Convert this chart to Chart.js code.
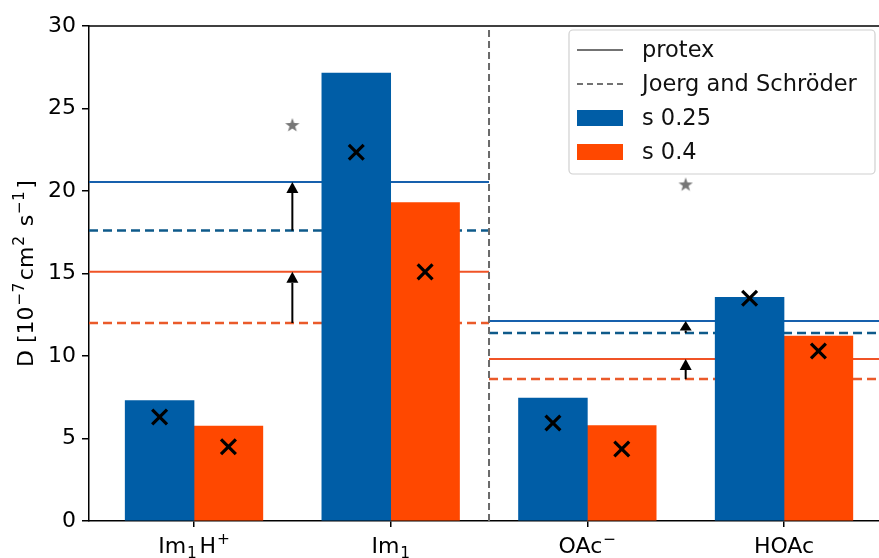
<!DOCTYPE html>
<html>
<head>
<meta charset="utf-8">
<script src="https://cdn.jsdelivr.net/npm/chart.js"></script>
<style>
  body { margin: 0; background: #fff; }
  canvas { display: block; }
</style>
</head>
<body>
<canvas id="diffChart" width="879" height="558"></canvas>
<script>
    // species on the x axis and diffusion coefficients in 1e-7 cm^2/s
    const categories = ['Im₁H⁺', 'Im₁', 'OAc⁻', 'HOAc'];
    const s025Bars = [7.3, 27.15, 7.45, 13.55];
    const s04Bars = [5.75, 19.3, 5.78, 11.2];
    const s025Marks = [6.3, 22.35, 5.94, 13.5];
    const s04Marks = [4.5, 15.1, 4.36, 10.3];

    // reference lines per group: [imidazole side, acetate side]
    const protexS025 = [20.55, 12.12];
    const joergS025 = [17.6, 11.4];
    const protexS04 = [15.1, 9.82];
    const joergS04 = [12.0, 8.6];
    const starValues = [24.0, 20.4];

    const yTicks = [0, 5, 10, 15, 20, 25, 30];
    const yTitle = 'D [10⁻⁷cm² s⁻¹]';
    const legendLabels = ['protex', 'Joerg and Schröder', 's 0.25', 's 0.4'];

    const xMin = -0.534, xMax = 3.483, barWidth = 0.35, divider = 1.5;
    const blue = '#005da6', orange = '#ff4800';
    const blueLine = '#1660ad', blueDash = '#0e5a8a', orangeLine = '#f05326', orangeDash = '#ea5a2a';
    const family = '"DejaVu Sans"';
    const font = { family: 'DejaVu Sans', size: 22 };

    const groupSpans = [[xMin, divider], [divider, xMax]];
    const groupCentres = [0.5, 2.5];

    function hline(values, color, dash) {
        return values.map((v, g) => ({
            type: 'line', order: 3, borderColor: color, borderWidth: dash ? 2.5 : 2,
            borderDash: dash ? [9, 5] : [], pointRadius: 0,
            data: [{ x: groupSpans[g][0], y: v }, { x: groupSpans[g][1], y: v }]
        }));
    }

    // split a label into normal / subscript / superscript runs
    const subChars = { '₁': '1' };
    const supChars = { '⁺': '+', '⁻': '−', '⁷': '7', '²': '2', '¹': '1' };
    function runs(str) {
        const out = [];
        for (const ch of str) {
            let mode = 'n', t = ch;
            if (subChars[ch]) { mode = 'sub'; t = subChars[ch]; }
            else if (supChars[ch]) { mode = 'sup'; t = supChars[ch]; }
            const last = out[out.length - 1];
            if (last && last.mode === mode) last.t += t;
            else out.push({ mode, t });
        }
        return out;
    }

    function drawRich(ctx, str, x, y, size) {
        const parts = runs(str);
        const small = size * 0.7;
        let total = 0;
        parts.forEach((p, i) => {
            ctx.font = (p.mode === 'n' ? size : small) + 'px ' + family;
            p.w = ctx.measureText(p.t).width;
            p.gap = (p.mode !== 'n' && i < parts.length - 1) ? size * 0.12 : (p.mode === 'n' && i < parts.length - 1 ? size * 0.04 : 0);
            total += p.w + p.gap;
        });
        let cx = x - total / 2;
        ctx.textBaseline = 'alphabetic';
        ctx.textAlign = 'left';
        parts.forEach(p => {
            ctx.font = (p.mode === 'n' ? size : small) + 'px ' + family;
            const dy = p.mode === 'sub' ? size * 0.22 : p.mode === 'sup' ? -size * 0.42 : 0;
            ctx.fillText(p.t, cx, y + dy);
            cx += p.w + p.gap;
        });
    }

    // filled five point star used as a marker
    const star = document.createElement('canvas');
    star.width = 16; star.height = 16;
    (function () {
        const c = star.getContext('2d');
        c.fillStyle = '#777';
        c.beginPath();
        for (let i = 0; i < 10; i++) {
            const r = i % 2 ? 3 : 7.5;
            const a = -Math.PI / 2 + i * Math.PI / 5;
            c.lineTo(8 + r * Math.cos(a), 8.5 + r * Math.sin(a));
        }
        c.closePath();
        c.fill();
    })();

    const arrows = [
        { x: groupCentres[0], from: joergS025[0], to: protexS025[0] },
        { x: groupCentres[0], from: joergS04[0], to: protexS04[0] },
        { x: groupCentres[1], from: joergS025[1], to: protexS025[1] },
        { x: groupCentres[1], from: joergS04[1], to: protexS04[1] }
    ];

    const extras = {
        id: 'extras',
        afterDatasetsDraw(chart) {
            const ctx = chart.ctx, xs = chart.scales.x, ys = chart.scales.y, area = chart.chartArea;
            ctx.save();
            // arrows from literature value up to protex value
            ctx.strokeStyle = '#000'; ctx.fillStyle = '#000'; ctx.lineWidth = 2;
            arrows.forEach(a => {
                const px = xs.getPixelForValue(a.x);
                const y0 = ys.getPixelForValue(a.from), y1 = ys.getPixelForValue(a.to);
                const head = Math.min(11, (y0 - y1) * 0.8);
                ctx.beginPath();
                ctx.moveTo(px, y0); ctx.lineTo(px, y1 + head);
                ctx.stroke();
                ctx.beginPath();
                ctx.moveTo(px, y1); ctx.lineTo(px - 6, y1 + head); ctx.lineTo(px + 6, y1 + head);
                ctx.closePath(); ctx.fill();
            });
            // top spine
            ctx.strokeStyle = '#000'; ctx.lineWidth = 1.5;
            ctx.beginPath();
            ctx.moveTo(area.left, area.top); ctx.lineTo(area.right, area.top);
            ctx.stroke();
            ctx.restore();
        },
        afterDraw(chart) {
            const ctx = chart.ctx, xs = chart.scales.x;
            ctx.save();
            ctx.fillStyle = '#000';
            // category labels with sub/superscripts
            categories.forEach((c, i) => drawRich(ctx, c, xs.getPixelForValue(i), 553, 22));
            // rotated axis title
            ctx.save();
            ctx.translate(33, (chart.chartArea.top + chart.chartArea.bottom) / 2);
            ctx.rotate(-Math.PI / 2);
            drawRich(ctx, yTitle, 0, 0, 22);
            ctx.restore();

            // legend box
            const bx = 569, by = 30, bw = 306, bh = 144;
            ctx.fillStyle = 'rgba(255,255,255,0.85)';
            ctx.strokeStyle = '#d0d0d0'; ctx.lineWidth = 1.2;
            ctx.beginPath();
            ctx.roundRect(bx, by, bw, bh, 4);
            ctx.fill(); ctx.stroke();
            ctx.font = '22.5px ' + family;
            ctx.textBaseline = 'middle';
            ctx.textAlign = 'left';
            const rows = [50, 84, 118, 152];
            rows.forEach((ry, i) => {
                if (i < 2) {
                    ctx.strokeStyle = '#444'; ctx.lineWidth = 1.6;
                    ctx.setLineDash(i === 1 ? [6, 4] : []);
                    ctx.beginPath(); ctx.moveTo(577, ry); ctx.lineTo(623, ry); ctx.stroke();
                    ctx.setLineDash([]);
                } else {
                    ctx.fillStyle = i === 2 ? blue : orange;
                    ctx.fillRect(577, ry - 8, 46, 16);
                }
                ctx.fillStyle = '#111';
                ctx.fillText(legendLabels[i], 642, ry + 1);
            });
            ctx.restore();
        }
    };

    const datasets = [
        {
            type: 'line', order: 0, showLine: false, data: s025Marks.map((v, i) => ({ x: i - barWidth / 2, y: v })),
            pointStyle: 'crossRot', pointRadius: 10.5, borderColor: '#000', borderWidth: 3.2
        },
        {
            type: 'line', order: 0, showLine: false, data: s04Marks.map((v, i) => ({ x: i + barWidth / 2, y: v })),
            pointStyle: 'crossRot', pointRadius: 10.5, borderColor: '#000', borderWidth: 3.2
        },
        {
            type: 'line', order: 0, showLine: false,
            data: starValues.map((v, g) => ({ x: groupCentres[g], y: v })),
            pointStyle: star, pointRadius: 8
        },
        {
            type: 'bar', order: 1, backgroundColor: blue,
            data: s025Bars.map((v, i) => ({ x: i - barWidth / 2, y: v }))
        },
        {
            type: 'bar', order: 1, backgroundColor: orange,
            data: s04Bars.map((v, i) => ({ x: i + barWidth / 2, y: v }))
        },
        {
            type: 'line', order: 2, borderColor: '#6a6a6a', borderWidth: 2, borderDash: [7, 4], pointRadius: 0,
            data: [{ x: divider, y: 0 }, { x: divider, y: 30 }]
        },
        ...hline(protexS025, blueLine, false),
        ...hline(joergS025, blueDash, true),
        ...hline(protexS04, orangeLine, false),
        ...hline(joergS04, orangeDash, true)
    ];

    new Chart(document.getElementById('diffChart'), {
        type: 'bar',
        data: { datasets },
        options: {
            responsive: false,
            animation: false,
            grouped: false,
            barPercentage: 1,
            categoryPercentage: 1,
            layout: { autoPadding: false, padding: { top: 26, right: 0, left: 0, bottom: 0 } },
            plugins: { legend: { display: false }, tooltip: { enabled: false } },
            scales: {
                x: {
                    type: 'linear', min: xMin, max: xMax, offset: false,
                    afterBuildTicks: s => { s.ticks = categories.map((c, i) => ({ value: i })); },
                    afterFit: s => { s.height = 37; s.paddingLeft = 0; s.paddingRight = 0; },
                    ticks: { callback: () => '', font, color: '#000', padding: 6, maxRotation: 0, autoSkip: false },
                    grid: { drawOnChartArea: false, offset: false, tickLength: 6, color: '#000', lineWidth: 1.5 },
                    border: { display: true, color: '#000', width: 1.5 }
                },
                y: {
                    min: 0, max: 30,
                    afterBuildTicks: s => { s.ticks = yTicks.map(v => ({ value: v })); },
                    afterFit: s => { s.width = 89; },
                    ticks: { font, color: '#000', padding: 6 },
                    grid: { drawOnChartArea: false, tickLength: 7, color: '#000', lineWidth: 1.5 },
                    border: { display: true, color: '#000', width: 1.5 },
                    title: { display: false }
                }
            }
        },
        plugins: [extras]
    });
</script>
</body>
</html>
